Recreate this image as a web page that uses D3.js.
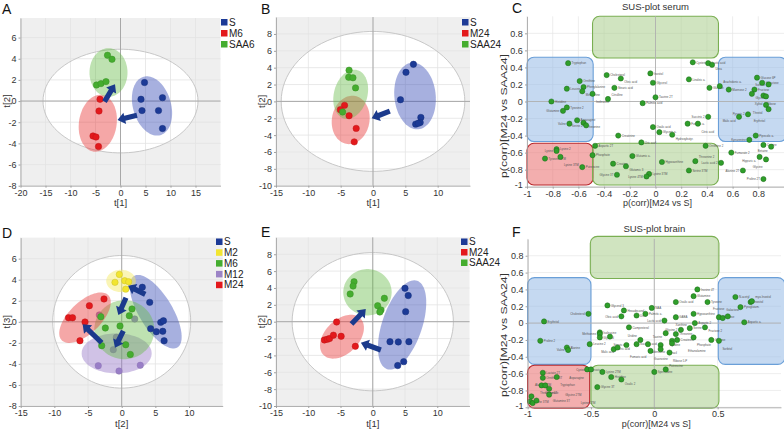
<!DOCTYPE html>
<html><head><meta charset="utf-8">
<script src="https://cdn.jsdelivr.net/npm/d3@7"></script>
<style>body{margin:0;background:#fff;} svg{display:block;}</style>
</head><body>
<svg id="chart" width="784" height="430"></svg>
<script>
// ---------------- DATA ----------------
// Score plot A (t[1] vs t[2])
const A_xTicks = [-20,-15,-10,-5,0,5,10,15];
const A_yTicks = [-8,-6,-4,-2,0,2,4,6];
const A_S    = [[4.8,1.75],[4.1,0.17],[8.4,0.32],[4.3,-0.9],[7.6,-0.9],[8.4,-2.6]];
const A_M6   = [[-4.1,0.17],[-4.3,-0.94],[-5.5,-3.3],[-4.9,-3.4],[-4.4,-4.3]];
const A_SAA6 = [[-2.6,4.33],[-1.7,3.95],[-4.8,1.52],[-3.9,1.65],[-2.9,1.84]];
const A_hotelling = [15.5, 4.9];
// ellipse = [cx, cy, ux, uy, vx, vy] (conjugate semi-axes, data units)
const A_ellS    = [6.3,-0.46,-1.67,2.76,3.66,0.49];
const A_ellM6   = [-4.54,-2.1,0.84,2.68,3.73,-0.26];
const A_ellSAA6 = [-2.4,2.7,3.8,0,0,2.3];
const A_arrows  = [[3.3,-1.35,-0.6,-1.8],[-3.2,-0.05,-1.1,1.6]];

// Score plot B
const B_xTicks = [-15,-10,-5,0,5,10];
const B_yTicks = [-10,-8,-6,-4,-2,0,2,4,6,8];
const B_S     = [[6.25,4.4],[5.1,3.45],[4.25,0.2],[7.4,-1.9],[7.3,-2.5],[6.6,-2.7],[7.0,-2.6]];
const B_M24   = [[-4.4,-0.47],[-5.05,-0.98],[-3.7,-1.7],[-2.6,-3.2],[-2.9,-4.8]];
const B_SAA24 = [[-3.7,3.7],[-3.76,2.86],[-3.1,2.8],[-2.7,1.6],[-4.7,-1.26]];
const B_hotelling = [14.2, 8.3];
const B_ellS     = [6.5,0.64,-0.51,3.95,3.18,0.24];
const B_ellM24   = [-3.45,-2.2,0.3,2.87,2.92,-0.05];
const B_ellSAA24 = [-3.45,0.84,1.03,2.87,2.49,-0.53];
const B_arrows   = [[2.6,-1.15,-0.2,-2.0]];

// Score plot D (t[2] vs t[3])
const D_xTicks = [-15,-10,-5,0,5,10];
const D_yTicks = [-8,-6,-4,-2,0,2,4,6];
const D_S   = [[3.06,3.28],[4.16,1.85],[4.3,-0.65],[5.15,-0.94],[5.8,-0.05],[6.2,0.1],[6.1,-0.9],[6.3,-1.8]];
const D_M2  = [[-0.35,4.5],[-1.0,3.75],[0.45,3.9],[1.04,3.8],[0.6,3.1]];
const D_M6  = [[1.53,1.22],[1.13,0.58],[-0.25,-0.4],[-2.43,-0.59],[-3.1,0.48],[-2.97,-2.27],[0.6,-2.18],[1.28,-3.1]];
const D_M12 = [[-3.33,0.65],[1.93,0.27],[-0.8,-1.47],[-1.25,-2.65],[-3.48,-4.17],[-0.4,-4.68],[2.76,-4.13]];
const D_M24 = [[-2.63,2.17],[-4.8,1.53],[-7.9,0.39],[-7.3,0.39],[-5.45,-0.02],[-6.2,-1.8]];
const D_hotelling = [10.25, 6.3];
const D_ellS   = [5.05,0.96,3.22,-3.4,2.12,0.82];
const D_ellM2  = [-0.1,3.88,2.2,0,0,1.06];
const D_ellM6  = [0.39,-0.75,4.46,0,0,2.8];
const D_ellM12 = [-0.75,-3.0,5.2,0,0,1.9];
const D_ellM24 = [-5.45,0.39,3.46,2.14,1.63,-1.08];
const D_arrows = [[3.5,2.6,0.94,3.43],[0.64,2.29,-0.5,0.65],[0.24,-0.87,-1.0,-2.46],[-2.97,-1.99,-5.8,-0.24]];

// Score plot E
const E_xTicks = [-15,-10,-5,0,5,10];
const E_yTicks = [-10,-8,-6,-4,-2,0,2,4,6,8];
const E_S     = [[5.0,3.96],[5.5,3.1],[5.1,1.19],[2.67,-2.37],[3.96,-2.4],[5.6,-2.37],[4.8,-4.74],[3.87,-5.2]];
const E_M24   = [[-5.6,-0.04],[-7.5,-2.17],[-7.05,-2.09],[-6.7,-2.0],[-6.1,-1.6],[-4.9,-1.73],[-2.7,-2.92]];
const E_SAA24 = [[-2.9,4.74],[-3.05,4.23],[-3.5,3.29],[1.8,2.78],[0.76,1.9],[1.28,1.39],[1.1,1.15]];
const E_hotelling = [12.5, 8.2];
const E_ellS     = [4.55,-0.39,2.33,5.24,2.93,-0.76];
const E_ellM24   = [-4.77,-1.78,2.85,2.18,1.86,-1.42];
const E_ellSAA24 = [-0.82,3.49,3.75,0,0,2.75];
const E_arrows   = [[-3.3,-0.27,-1.08,1.5],[1.26,-3.36,-1.84,-2.49]];

// SUS plots: [p(corr) M24 vs S, p(corr) M24 vs SAA24, name]
const C_points = [
 [-0.68,0.45,"Tryptophan"],[-0.59,0.24,"Ornithine"],[-0.56,0.17,"Phenylalanine"],[-0.69,0.15,"Leucine"],
 [-0.57,0.12,"Methionine"],[-0.49,0.09,"Isoleucine"],[-0.81,0.0,"Histidine"],[-0.69,-0.07,"Tyrosine 2"],
 [-0.72,-0.11,"Glutamine"],[-0.61,-0.22,"Asparagine"],[-0.67,-0.26,"Valine"],[-0.56,-0.25,"Threonine"],
 [-0.54,-0.28,"Serine 2"],[-0.38,0.31,"Cholesterol"],[-0.27,0.27,"Oleic acid"],[-0.32,0.16,"Stearic acid"],
 [-0.37,0.03,"Citrulline"],[-0.10,-0.02,"Palmitic acid"],[-0.04,0.33,"Inositol"],[-0.02,0.22,"Glycerol"],
 [0.0,0.05,"Taurine 2T"],[0.29,0.46,"Cysteine"],[0.41,0.45,"Lactic acid"],[0.44,0.43,"Urea"],
 [0.26,0.26,"Linoleic a."],[0.42,0.16,"Glucose"],[0.50,0.18,"Arachidonic a."],[0.57,0.14,"Mannose 2"],
 [0.79,0.28,"Glucose 6P"],[0.83,0.22,"Galactose"],[0.88,0.2,"Sorbitol"],[0.77,0.14,"Fructose"],
 [0.75,0.09,"Glycerate"],[0.84,0.07,"Ribose"],[0.86,0.06,"Xylitol"],[0.86,-0.04,"Threitol"],
 [0.88,-0.09,"Erythritol"],[0.72,-0.15,"Pyruvic 2"],[0.65,-0.18,"Malic acid"],[0.41,-0.18,"Succinic 2"],
 [0.25,-0.26,"Fumaric a."],[0.33,-0.26,"Citric acid"],[-0.02,-0.3,"Oxalic acid"],[0.03,-0.36,"Glyceric a."],
 [0.13,-0.39,"Hydroxybutyr."],[-0.29,-0.40,"Creatinine"],[-0.11,-0.48,"Uric acid"],[-0.47,-0.52,"Aspartic 2T"],
 [0.78,-0.40,"Pipecolic a."],[0.73,-0.45,"Kynurenine"],[0.84,-0.51,"Cystine"],[0.90,-0.53,"Betaine"],
 [0.39,-0.52,"Ornithine 2"],[0.59,-0.60,"Fumarate 2"],[0.81,-0.65,"Hippuric a."],[0.86,-0.68,"Glycine"],
 [0.51,-0.72,"Lactic acid 2"],[0.68,-0.81,"Alanine 2T"],[0.84,-0.91,"Proline 2T"],[-0.49,-0.63,"Phosphate"],
 [-0.18,-0.64,"Glutamic a."],[-0.33,-0.73,"Creatine"],[-0.23,-0.76,"Glutamic 3"],[0.05,-0.71,"Hypoxanthine"],
 [0.31,-0.70,"Threonine 2"],[0.26,-0.81,"Serine 3TM"],[-0.30,-0.86,"Glycine 3T"],[-0.05,-0.85,"Lysine 3TM"],
 [-0.07,-0.88,"Lysine 4TM"],[-0.57,-0.77,"Putrescine"],[-0.77,-0.56,"Lysine 2"],[-0.77,-0.58,"Lysine"],
 [-0.86,-0.67,"Tyrosine 3TM"],[-0.74,-0.65,"Lysine 3TM"]
];
const F_points = [
 [0.34,0.40,"Inosine 4T"],[0.31,0.32,"Glutamine"],[0.17,0.25,"Oxalic acid"],[0.42,0.25,"Tyrosine"],
 [-0.02,0.18,"NAA"],[-0.37,0.21,"Glycerol 3"],[-0.24,0.15,"Hexadecanol"],[-0.14,0.09,"Urea"],
 [-0.07,0.11,"Palmitic a."],[-0.26,0.08,"Oleic acid"],[-0.52,0.11,"Cholesterol"],[0.31,0.11,"Hypoxanthine"],
 [0.17,0.07,"GABA"],[0.08,0.03,"Lactic acid"],[-0.20,-0.05,"Campesterol"],[0.32,0.0,"Aspartic 2"],
 [0.28,-0.06,"Serine"],[0.40,-0.05,"Fructose 2"],[0.21,-0.08,"Glycine 2"],[0.17,-0.13,"Threonine"],
 [0.09,-0.12,"Taurine"],[0.18,-0.20,"Creatinine"],[0.31,-0.17,"Phosphate"],[0.45,-0.20,"Glucose"],
 [0.51,0.07,"Mannose"],[0.54,0.06,"Galactose"],[0.58,0.08,"Fructose"],[0.51,-0.21,"Sorbitol"],
 [0.64,0.31,"N-acetyl"],[0.68,0.19,"Pyroglutam."],[0.76,0.25,"Inositol"],[0.77,0.26,"myo-Inositol"],
 [0.71,0.01,"Aspartic a."],[-0.87,0.02,"Erythritol"],[-0.90,-0.21,"Proline 2"],[-0.69,-0.29,"Alanine"],
 [-0.68,-0.32,"Valine"],[-0.51,-0.25,"Leucine 2"],[-0.43,-0.11,"Isoleucine"],[-0.43,-0.13,"Methionine"],
 [-0.43,-0.17,"Glycerol"],[-0.35,-0.16,"Stearic acid"],[-0.32,-0.31,"Citric acid"],[-0.29,-0.29,"Malic acid"],
 [-0.22,-0.26,"Fumaric acid"],[-0.14,-0.25,"Succinic acid"],[-0.11,-0.20,"Uridine"],[-0.05,-0.25,"Adenosine"],
 [-0.03,-0.33,"Guanosine"],[0.05,-0.26,"Cytidine"],[0.05,-0.31,"Uracil"],[0.12,-0.35,"Ribose 5-P"],
 [0.14,-0.21,"Xanthine"],[0.14,-0.24,"Ethanolamine"],[-0.53,-0.55,"Pyruvic"],[-0.50,-0.55,"Cysteine"],
 [-0.41,-0.58,"Lysine 2TM"],[-0.34,-0.64,"Histidine"],[-0.26,-0.67,"Oxalic 2"],[-0.45,-0.76,"Glycine 3T"],
 [0.0,-0.58,"Spermidine"],[0.09,-0.55,"Putrescine"],[-0.88,-0.59,"Lactate 2T"],[-0.88,-0.65,"Ornithine 3T"],
 [-0.77,-0.64,"Tryptophan"],[-0.89,-0.74,"Glutamate"],[-0.86,-0.74,"Asparagine"],[-0.83,-0.78,"Glutamine 3T"],
 [-0.83,-0.85,"Glycine 2TM"],[-0.97,-0.87,"Alanine 2TM"],[-0.98,-0.93,"Serine 3TM"],[-0.96,-0.95,"Lysine 4TM"],
 [-0.93,-0.92,"Threonine 3T"]
];
const C_xTicks = [-1,-0.8,-0.6,-0.4,-0.2,0,0.2,0.4,0.6,0.8];
const F_xTicks = [-1,-0.5,0,0.5];
const SUS_yTicks = [-1,-0.8,-0.6,-0.4,-0.2,0,0.2,0.4,0.6,0.8];
// SUS regions [x0, x1, y0, y1, kind]
const C_boxes = [[-0.49,0.49,0.51,1.0,"g"],[-1.0,-0.485,-0.47,0.52,"b"],[0.49,1.02,-0.47,0.52,"b"],[-1.0,-0.485,-0.98,-0.49,"r"],[-0.49,0.49,-0.98,-0.49,"g"]];
const F_boxes = [[-0.505,0.51,0.53,1.03,"g"],[-1.0,-0.5,-0.49,0.54,"b"],[0.505,1.03,-0.49,0.54,"b"],[-1.0,-0.51,-1.01,-0.5,"r"],[-0.5,0.51,-1.01,-0.5,"g"]];

// ---------------- DRAWING ----------------
const FONT = "'Liberation Sans', Arial, Helvetica, sans-serif";
const svg = d3.select("#chart").attr("font-family", FONT);
const COL = {S:"#1c3a96", R:"#e3191c", G:"#45ad2f", Y:"#f2e530", P:"#9c84c6"};
const FILL = {S:"rgba(60,80,185,0.45)", R:"rgba(232,60,60,0.45)", G:"rgba(100,185,70,0.42)", Y:"rgba(245,235,110,0.5)", P:"rgba(150,120,200,0.45)"};

function ellipsePath(x, y, e) {
  const pts = d3.range(90).map(i => {
    const t = i / 90 * 2 * Math.PI;
    return [x(e[0] + e[2]*Math.cos(t) + e[4]*Math.sin(t)), y(e[1] + e[3]*Math.cos(t) + e[5]*Math.sin(t))];
  });
  return d3.line().curve(d3.curveLinearClosed)(pts);
}
function arrowPath(p1, p2) {
  const dx = p2[0]-p1[0], dy = p2[1]-p1[1], L = Math.hypot(dx,dy);
  const ux = dx/L, uy = dy/L, nx = -uy, ny = ux;
  const hl = 7.5, hw = 5.8, sw = 2.6;
  const bx = p2[0]-ux*hl, by = p2[1]-uy*hl;
  const pts = [[p1[0]+nx*sw,p1[1]+ny*sw],[bx+nx*sw,by+ny*sw],[bx+nx*hw,by+ny*hw],p2,[bx-nx*hw,by-ny*hw],[bx-nx*sw,by-ny*sw],[p1[0]-nx*sw,p1[1]-ny*sw]];
  return d3.line()(pts) + "Z";
}
function styleAxis(sel) {
  sel.select(".domain").attr("stroke","#a0a0a0").attr("stroke-width",0.8);
  sel.selectAll(".tick line").attr("stroke","#a0a0a0");
  sel.selectAll(".tick text").attr("fill","#333").attr("font-size",9).attr("font-family",FONT);
}
function numFmt(d){ return d === 0 ? "0" : String(+d.toFixed(2)); }

// candidate label offsets around a point, nearest first
const LABEL_OFFS = (() => {
  const out = [];
  [3.5, 9, 16, 24, 32, 40, 48].forEach(dx => [1.2, -2.8, 5, -6.6, 9, -10.6, 13, -14.6].forEach(dy => {
    out.push([dx, dy, "start"]); out.push([-dx, dy, "end"]);
  }));
  return out.sort((a,b) => Math.hypot(a[0],a[1]-1.2) - Math.hypot(b[0],b[1]-1.2));
})();

// greedy placement of tiny point labels to limit collisions, kept inside the plot area
function placeLabels(pts, x, y, fs, bounds) {
  const placed = [];
  const inter = (a,b) => !(a.x1 <= b.x0 || b.x1 <= a.x0 || a.y1 <= b.y0 || b.y1 <= a.y0);
  return pts.map(d => {
    const px = x(d[0]), py = y(d[1]);
    const w = d[2].length * fs * 0.62 + 1, h = fs * 1.5;
    let best = null, bestScore = Infinity;
    for (const o of LABEL_OFFS) {
      const tx = px + o[0], ty = py + o[1];
      const x0 = o[2] === "start" ? tx : tx - w;
      const box = {x0, x1: x0 + w, y0: ty - h*0.8, y1: ty + h*0.3};
      let score = placed.filter(b => inter(b, box)).length * 10;
      if (box.x1 > bounds[1] || box.x0 < bounds[0] || box.y0 < bounds[2] || box.y1 > bounds[3]) score += 25;
      if (score < bestScore) { bestScore = score; best = {tx, ty, anchor:o[2], box}; }
      if (score === 0) break;
    }
    placed.push(best.box);
    return {tx: best.tx, ty: best.ty, anchor: best.anchor, text: d[2]};
  });
}

function scorePlot(c) {
  const g = svg.append("g");
  const x = d3.scaleLinear().domain(c.xDomain).range([c.left, c.right]);
  const y = d3.scaleLinear().domain(c.yDomain).range([c.bottom, c.top]);
  g.append("rect").attr("x",c.left).attr("y",c.top).attr("width",c.right-c.left).attr("height",c.bottom-c.top).attr("fill","#efefef");
  const hot = [0,0,c.hotelling[0],0,0,c.hotelling[1]];
  g.append("path").attr("d",ellipsePath(x,y,hot)).attr("fill","#fff");
  g.selectAll(null).data(c.xTicks).join("line").attr("x1",d=>x(d)).attr("x2",d=>x(d)).attr("y1",c.top).attr("y2",c.bottom).attr("stroke","#e3e3e3").attr("stroke-width",0.8);
  g.selectAll(null).data(c.yTicks).join("line").attr("y1",d=>y(d)).attr("y2",d=>y(d)).attr("x1",c.left).attr("x2",c.right).attr("stroke","#e3e3e3").attr("stroke-width",0.8);
  g.append("path").attr("d",ellipsePath(x,y,hot)).attr("fill","none").attr("stroke","#c2c2c2").attr("stroke-width",0.9);
  g.append("line").attr("x1",x(0)).attr("x2",x(0)).attr("y1",c.top).attr("y2",c.bottom).attr("stroke","#a8a8a8").attr("stroke-width",1);
  g.append("line").attr("y1",y(0)).attr("y2",y(0)).attr("x1",c.left).attr("x2",c.right).attr("stroke","#a8a8a8").attr("stroke-width",1);
  const drawPts = grp => g.selectAll(null).data(grp.points).join("circle")
      .attr("cx",d=>x(d[0])).attr("cy",d=>y(d[1])).attr("r",3.2)
      .attr("fill",COL[grp.key]).attr("stroke",d3.color(COL[grp.key]).darker(0.5)).attr("stroke-width",0.5);
  c.groups.forEach(grp => {
    if (grp.under) drawPts(grp);
    g.append("path").attr("d",ellipsePath(x,y,grp.ellipse)).attr("fill",FILL[grp.key]);
  });
  c.groups.forEach(grp => { if (!grp.under) drawPts(grp); });
  g.selectAll(null).data(c.arrows).join("path")
    .attr("d",a=>arrowPath([x(a[0]),y(a[1])],[x(a[2]),y(a[3])]))
    .attr("fill","#1b3a8c");
  const xa = g.append("g").attr("transform",`translate(0,${c.bottom})`)
    .call(d3.axisBottom(x).tickValues(c.xTicks).tickSize(2).tickSizeOuter(0).tickPadding(2).tickFormat(numFmt));
  styleAxis(xa);
  const ya = g.append("g").attr("transform",`translate(${c.left},0)`)
    .call(d3.axisLeft(y).tickValues(c.yTicks).tickSize(2).tickSizeOuter(0).tickPadding(2).tickFormat(numFmt));
  styleAxis(ya);
  g.append("text").attr("x",(c.left+c.right)/2).attr("y",c.bottom+20.5).attr("text-anchor","middle")
    .attr("font-size",9.5).attr("fill","#333").text(c.xTitle);
  g.append("text").attr("transform",`translate(${c.left-11},${y(0)}) rotate(-90)`).attr("text-anchor","middle")
    .attr("font-size",9.5).attr("fill","#333").text(c.yTitle);
  c.groups.slice().sort((a,b)=>a.order-b.order).forEach((grp,i) => {
    const yy = c.legendY + i*c.legendStep;
    g.append("rect").attr("x",c.legendX).attr("y",yy).attr("width",6.5).attr("height",6.5).attr("fill",COL[grp.key]);
    g.append("text").attr("x",c.legendX+8).attr("y",yy+6.6).attr("font-size",10).attr("fill","#222").text(grp.label);
  });
  g.append("text").attr("x",c.letterX).attr("y",c.letterY).attr("font-size",14).attr("fill","#111").text(c.letter);
}

function susPlot(c) {
  const g = svg.append("g");
  const x = d3.scaleLinear().domain([-1,1]).range([c.left,c.right]);
  const y = d3.scaleLinear().domain([-1,1]).range([c.bottom,c.top]);
  g.selectAll(null).data(c.xGrid).join("line").attr("x1",d=>x(d)).attr("x2",d=>x(d)).attr("y1",c.top).attr("y2",c.bottom).attr("stroke","#e6e6e6").attr("stroke-width",0.7);
  g.selectAll(null).data(SUS_yTicks).join("line").attr("y1",d=>y(d)).attr("y2",d=>y(d)).attr("x1",c.left).attr("x2",c.right).attr("stroke","#e6e6e6").attr("stroke-width",0.7);
  const BF = {g:"rgba(170,205,140,0.55)", b:"rgba(150,185,230,0.55)", r:"rgba(235,120,120,0.6)"};
  const BS = {g:"#7aaf52", b:"#6a9fd8", r:"#b8262a"};
  g.selectAll(null).data(c.boxes).join("rect")
    .attr("x",d=>x(d[0])).attr("y",d=>y(d[3])).attr("width",d=>x(d[1])-x(d[0])).attr("height",d=>y(d[2])-y(d[3]))
    .attr("rx",7).attr("ry",7).attr("fill",d=>BF[d[4]]).attr("stroke",d=>BS[d[4]]).attr("stroke-width",1.1);
  g.append("line").attr("x1",x(0)).attr("x2",x(0)).attr("y1",c.top).attr("y2",c.bottom).attr("stroke","#b0b0b0").attr("stroke-width",0.9);
  g.append("line").attr("y1",y(0)).attr("y2",y(0)).attr("x1",c.left).attr("x2",c.right).attr("stroke","#b0b0b0").attr("stroke-width",0.9);
  const FS = 2.9;
  const labs = placeLabels(c.points, x, y, FS, [c.left+1, 783, c.top, c.bottom-1]);
  g.selectAll(null).data(labs).join("text")
    .attr("x",d=>d.tx).attr("y",d=>d.ty).attr("text-anchor",d=>d.anchor).attr("font-size",FS).attr("fill","#555").text(d=>d.text);
  g.selectAll(null).data(c.points).join("circle")
    .attr("cx",d=>x(d[0])).attr("cy",d=>y(d[1])).attr("r",2.6)
    .attr("fill","#2f9e2a").attr("stroke","#1c6b1a").attr("stroke-width",0.5);
  const xa = g.append("g").attr("transform",`translate(0,${c.bottom})`)
    .call(d3.axisBottom(x).tickValues(c.xTicks).tickSize(2).tickSizeOuter(0).tickPadding(1.5).tickFormat(numFmt));
  styleAxis(xa);
  const ya = g.append("g").attr("transform",`translate(${c.left},0)`)
    .call(d3.axisLeft(y).tickValues(SUS_yTicks).tickSize(2).tickSizeOuter(0).tickPadding(2.2).tickFormat(numFmt));
  styleAxis(ya);
  ya.selectAll(".tick text").attr("dy", d => d === -1 ? "0.1em" : "0.32em");
  g.append("text").attr("x",x(0)+2).attr("y",c.bottom+19.5).attr("text-anchor","middle").attr("font-size",9).attr("fill","#333").text(c.xTitle);
  g.append("text").attr("transform",`translate(${c.yTitleX},${c.yTitleY}) rotate(-90)`).attr("text-anchor","middle")
    .attr("font-size",9.5).attr("fill","#333").attr("textLength",124).attr("lengthAdjust","spacingAndGlyphs").text(c.yTitle);
  g.append("text").attr("x",x(0)).attr("y",c.titleY).attr("text-anchor","middle").attr("font-size",9.5).attr("fill","#333").text(c.title);
  g.append("text").attr("x",c.letterX).attr("y",c.letterY).attr("font-size",14).attr("fill","#111").text(c.letter);
}

scorePlot({letter:"A", letterX:2, letterY:13.5, left:20.5, right:220.5, top:18, bottom:185.7,
  xDomain:[-20,20], yDomain:[-8,7.85], xTicks:A_xTicks, yTicks:A_yTicks, hotelling:A_hotelling,
  xTitle:"t[1]", yTitle:"t[2]", legendX:221, legendY:19, legendStep:11,
  groups:[{key:"S",label:"S",points:A_S,ellipse:A_ellS,order:0},
          {key:"R",label:"M6",points:A_M6,ellipse:A_ellM6,order:1},
          {key:"G",label:"SAA6",points:A_SAA6,ellipse:A_ellSAA6,order:2}],
  arrows:A_arrows});

scorePlot({letter:"B", letterX:261, letterY:13.5, left:276, right:470, top:17.1, bottom:185.7,
  xDomain:[-15,15], yDomain:[-10,10], xTicks:B_xTicks, yTicks:B_yTicks, hotelling:B_hotelling,
  xTitle:"t[1]", yTitle:"t[2]", legendX:462, legendY:19, legendStep:11,
  groups:[{key:"S",label:"S",points:B_S,ellipse:B_ellS,order:0},
          {key:"R",label:"M24",points:B_M24,ellipse:B_ellM24,order:1},
          {key:"G",label:"SAA24",points:B_SAA24,ellipse:B_ellSAA24,order:2}],
  arrows:B_arrows});

scorePlot({letter:"D", letterX:2, letterY:237.5, left:20.7, right:222.7, top:237.6, bottom:406,
  xDomain:[-15,15], yDomain:[-8,8], xTicks:D_xTicks, yTicks:D_yTicks, hotelling:D_hotelling,
  xTitle:"t[2]", yTitle:"t[3]", legendX:216, legendY:238.5, legendStep:10.8,
  groups:[{key:"P",label:"M12",points:D_M12,ellipse:D_ellM12,order:3,under:true},
          {key:"S",label:"S",points:D_S,ellipse:D_ellS,order:0},
          {key:"Y",label:"M2",points:D_M2,ellipse:D_ellM2,order:1},
          {key:"G",label:"M6",points:D_M6,ellipse:D_ellM6,order:2},
          {key:"R",label:"M24",points:D_M24,ellipse:D_ellM24,order:4}],
  arrows:D_arrows});

scorePlot({letter:"E", letterX:261, letterY:236.5, left:276, right:469.5, top:237.4, bottom:406,
  xDomain:[-15,15], yDomain:[-10,10], xTicks:E_xTicks, yTicks:E_yTicks, hotelling:E_hotelling,
  xTitle:"t[1]", yTitle:"t[2]", legendX:461, legendY:238.5, legendStep:10.5,
  groups:[{key:"S",label:"S",points:E_S,ellipse:E_ellS,order:0},
          {key:"R",label:"M24",points:E_M24,ellipse:E_ellM24,order:1},
          {key:"G",label:"SAA24",points:E_SAA24,ellipse:E_ellSAA24,order:2}],
  arrows:E_arrows});

susPlot({letter:"C", letterX:512, letterY:13, left:527, right:784, top:16.3, bottom:186.7,
  xTicks:C_xTicks, xGrid:C_xTicks, boxes:C_boxes, points:C_points,
  title:"SUS-plot serum", titleY:10, xTitle:"p(corr)[M24 vs S]", yTitle:"p(corr)[M24 vs SAA24]", yTitleX:507, yTitleY:116});

susPlot({letter:"F", letterX:512, letterY:237, left:527.6, right:781, top:238.9, bottom:407.3,
  xTicks:F_xTicks, xGrid:F_xTicks, boxes:F_boxes, points:F_points,
  title:"SUS-plot brain", titleY:231.5, xTitle:"p(corr)[M24 vs S]", yTitle:"p(corr)[M24 vs SAA24]", yTitleX:507, yTitleY:335});
</script>
</body></html>
